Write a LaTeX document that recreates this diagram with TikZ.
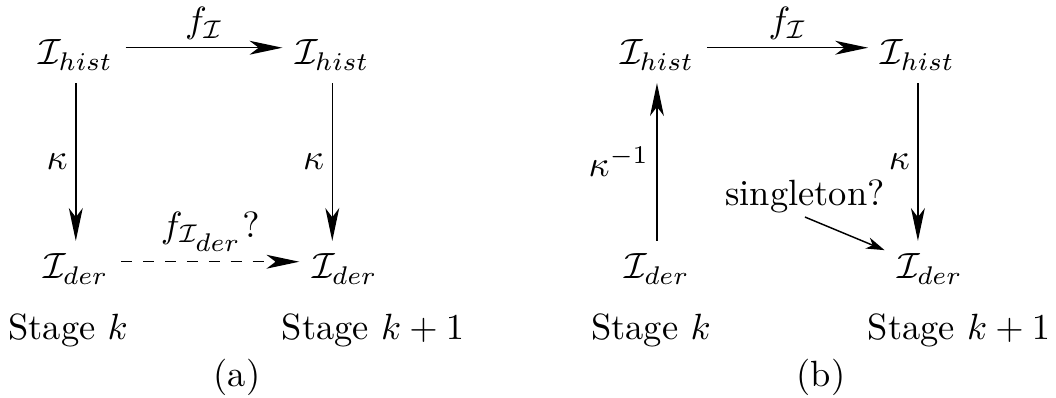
\documentclass[tikz,border=0pt]{standalone}
\usepackage{amsmath}
\usepackage{amsfonts}
\usepackage{tikz}
\usetikzlibrary{arrows.meta,calc}

\tikzset{lbl/.style={inner sep=2pt, font=\normalsize}}

\begin{document}
\begin{tikzpicture}[>={Stealth[length=9pt,width=3.8pt,inset=2.5pt]}]
			\useasboundingbox (0,0) rectangle (10.17,3.833);

			% (a)
			\node (histA) at (0.73,3.303) {$\mathcal{I}_{hist}$};
			\node (histB) at (3.20,3.303) {$\mathcal{I}_{hist}$};
			\node (derA) at (0.73,1.242) {$\mathcal{I}_{der}$};
			\node (derB) at (3.32,1.242) {$\mathcal{I}_{der}$};

			\draw [->] ([yshift=2pt]histA.east) -- ([yshift=2pt]histB.west) node [lbl, midway, above] {$f_{\mathcal{I}}$};
			\draw [->] (histA.south) -- (derA.north) node [lbl, midway, left] {$\kappa$};
			\draw [->] (histB.south) -- (histB.south |- derB.north) node [lbl, midway, left] {$\kappa$};
			\draw [->, dashed] ([yshift=2pt]derA.east) -- ([yshift=2pt]derB.west) node [lbl, midway, above, inner sep=2.5pt] {$f_{\mathcal{I}_{\scriptstyle der}}?$};

			\node (stageA) at (0.655,0.655) {Stage $k$};
			\node (stageB) at (3.592,0.655) {Stage $k+1$};
			\node (capA) at (2.282,0.202) {(a)};

			% (b)
			\node (histC) at (6.327,3.303) {$\mathcal{I}_{hist}$};
			\node (histD) at (8.84,3.303) {$\mathcal{I}_{hist}$};
			\node (derC) at (6.327,1.242) {$\mathcal{I}_{der}$};
			\node (derD) at (8.956,1.242) {$\mathcal{I}_{der}$};
			\node (single) [inner sep=1pt] at (7.752,1.945) {singleton?};

			\draw [->] ([yshift=2pt]histC.east) -- ([yshift=2pt]histD.west) node [lbl, midway, above] {$f_{\mathcal{I}}$};
			\draw [->] (derC.north) -- (histC.south) node [lbl, midway, left] {$\kappa^{-1}$};
			\draw [->] (histD.south) -- (histD.south |- derD.north) node [lbl, midway, left] {$\kappa$};
			\draw [-{Stealth[length=5pt,width=3.2pt,inset=1.5pt]}] (single.south) -- (derD);

			\node (stageC) at (6.269,0.655) {Stage $k$};
			\node (stageD) at (9.235,0.655) {Stage $k+1$};
			\node (capB) at (7.906,0.202) {(b)};
		\end{tikzpicture}
\end{document}
